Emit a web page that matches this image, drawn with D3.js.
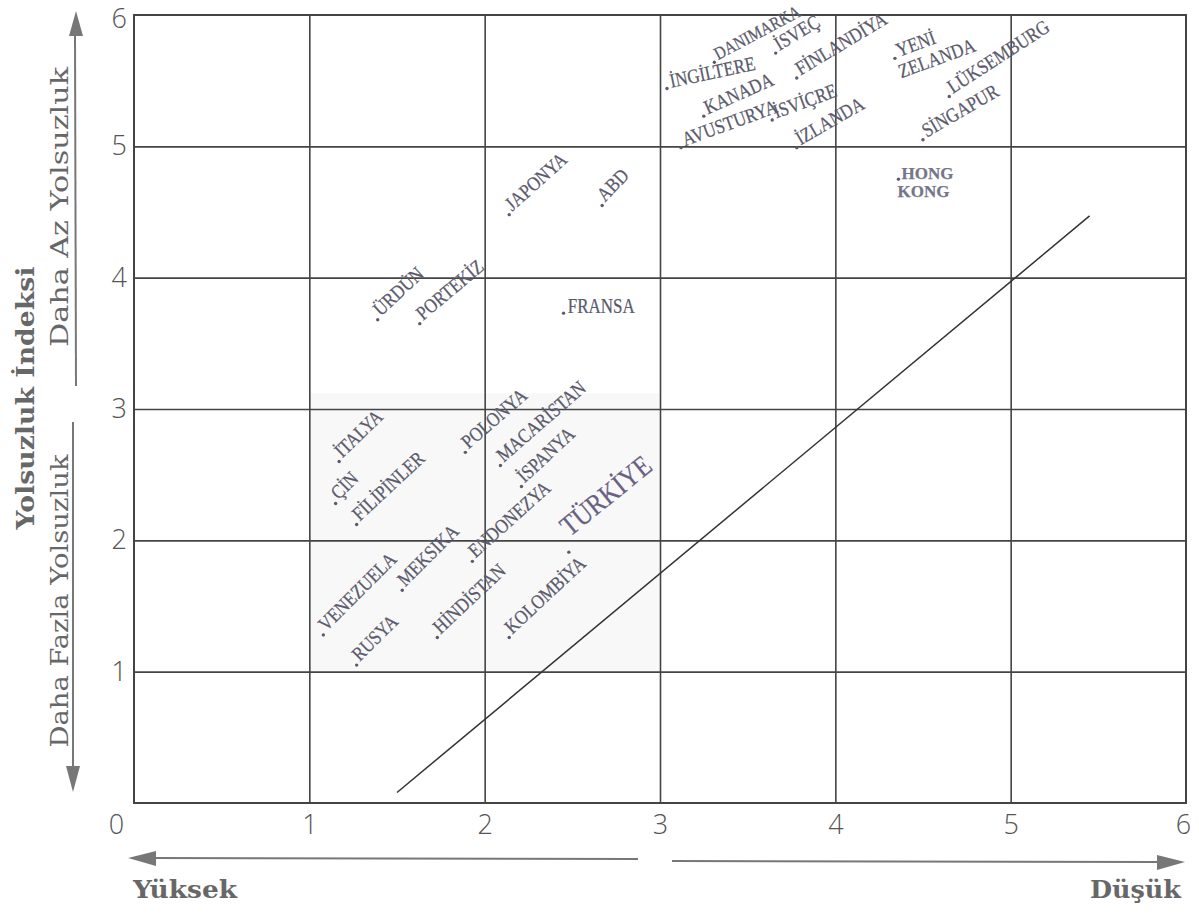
<!DOCTYPE html>
<html><head><meta charset="utf-8">
<script src="https://cdn.jsdelivr.net/npm/d3@7"></script>
<style>body{margin:0;background:#fff}</style>
</head><body>
<svg id="chart" width="1199" height="914"></svg>
<script>
// ---- data ----
const countries = ["DANIMARKA","İSVEÇ","İNGİLTERE","KANADA","AVUSTURYA","İSVİÇRE","FİNLANDİYA","İZLANDA",
  "YENİ ZELANDA","LÜKSEMBURG","SİNGAPUR","HONG KONG","JAPONYA","ABD","ÜRDÜN","PORTEKİZ","FRANSA",
  "İTALYA","ÇİN","FİLİPİNLER","POLONYA","MACARİSTAN","İSPANYA","ENDONEZYA","TÜRKİYE",
  "VENEZUELA","MEKSİKA","RUSYA","HİNDİSTAN","KOLOMBİYA"];
const xValues = [3.31,3.66,3.04,3.25,3.12,3.64,3.78,3.78,
  4.34,4.65,4.50,4.36,2.14,2.67,1.39,1.63,2.45,
  1.17,1.15,1.27,1.89,2.09,2.21,1.93,2.48,
  1.08,1.53,1.27,1.73,2.14];
const yValues = [5.64,5.71,5.44,5.23,4.99,5.20,5.52,4.99,
  5.67,5.38,5.05,4.75,4.48,4.55,3.68,3.65,3.73,
  2.60,2.28,2.12,2.67,2.57,2.41,1.84,1.91,
  1.28,1.62,1.05,1.26,1.26];
const xTicks = [0,1,2,3,4,5,6];
const yTicks = [1,2,3,4,5,6];
const gridValues = [1,2,3,4,5];
const trendX = [1.5, 5.45];
const trendY = [0.08, 4.47];
const shadeX = [1, 3];
const shadeY = [1, 3.12];
const yTitle = "Yolsuzluk İndeksi";
const yUpper = "Daha Az Yolsuzluk";
const yLower = "Daha Fazla Yolsuzluk";
const xLeft = "Yüksek";
const xRight = "Düşük";

// ---- label styling (angles etc.) ----
const labelAngle = {"DANIMARKA":-28,"İSVEÇ":-31,"İNGİLTERE":-12,"KANADA":-24,"AVUSTURYA":-20,"İSVİÇRE":-20,
  "FİNLANDİYA":-31,"İZLANDA":-30,"YENİ ZELANDA":-20,"LÜKSEMBURG":-33,"SİNGAPUR":-30,"HONG KONG":0,
  "JAPONYA":-42,"ABD":-46,"ÜRDÜN":-43,"PORTEKİZ":-40,"FRANSA":0,"İTALYA":-44,"ÇİN":-45,"FİLİPİNLER":-43,
  "POLONYA":-41,"MACARİSTAN":-41,"İSPANYA":-43,"ENDONEZYA":-42,"TÜRKİYE":-39,"VENEZUELA":-45,
  "MEKSİKA":-45,"RUSYA":-45,"HİNDİSTAN":-43,"KOLOMBİYA":-43};
const specialStyle = {
  "DANIMARKA": {size:18},
  "TÜRKİYE": {size:29, dx:12, dy:-11, color:"#685f82"},
  "HONG KONG": {size:17, dx:3, dy:0, sx:1, bold:true, lines:true, color:"#75758a"},
  "YENİ ZELANDA": {lines:true}
};

const svg = d3.select("#chart");
const x = d3.scaleLinear().domain([0,6]).range([134,1186]);
const y = d3.scaleLinear().domain([0,6]).range([803,15]);
const gridColor = "#444";

// shaded region
svg.append("rect")
  .attr("x", x(shadeX[0])).attr("y", y(shadeY[1]))
  .attr("width", x(shadeX[1]) - x(shadeX[0])).attr("height", y(shadeY[0]) - y(shadeY[1]))
  .attr("fill", "#f8f8f8");

// grid
svg.append("g").attr("transform", `translate(0,${y(0)})`)
  .call(d3.axisBottom(x).tickValues(gridValues).tickSize(-(y(0)-y(6))).tickFormat(""))
  .call(g => g.select(".domain").remove())
  .call(g => g.selectAll("line").attr("stroke", gridColor).attr("stroke-width", 1.6));
svg.append("g").attr("transform", `translate(${x(0)},0)`)
  .call(d3.axisLeft(y).tickValues(gridValues).tickSize(-(x(6)-x(0))).tickFormat(""))
  .call(g => g.select(".domain").remove())
  .call(g => g.selectAll("line").attr("stroke", gridColor).attr("stroke-width", 1.6));
svg.append("rect")
  .attr("x", x(0)).attr("y", y(6)).attr("width", x(6)-x(0)).attr("height", y(0)-y(6))
  .attr("fill", "none").attr("stroke", gridColor).attr("stroke-width", 2);

// trend line
const trend = trendX.map((v,i) => ({x:v, y:trendY[i]}));
svg.append("path").datum(trend)
  .attr("d", d3.line().x(d => x(d.x)).y(d => y(d.y)))
  .attr("stroke", "#333").attr("stroke-width", 1.5).attr("fill", "none");

// points + labels
const data = countries.map((c,i) => ({name:c, x:xValues[i], y:yValues[i]}));
const labelColor = "#5a5a6c";
const pts = svg.append("g").selectAll("g").data(data).join("g")
  .attr("transform", d => `translate(${x(d.x)},${y(d.y)})`);
pts.append("circle").attr("r", 1.7).attr("fill", labelColor);
pts.each(function(d){
  const s = specialStyle[d.name] || {};
  const g = d3.select(this).append("g")
    .attr("transform", `rotate(${labelAngle[d.name]}) scale(${s.sx || 0.85},1)`);
  const t = g.append("text")
    .attr("x", s.dx !== undefined ? s.dx : 5).attr("y", s.dy || 0)
    .attr("font-family", "'Liberation Serif', 'Times New Roman', serif")
    .attr("font-size", s.size || 20)
    .attr("font-weight", s.bold ? "bold" : "normal")
    .attr("fill", s.color || labelColor)
    .attr("stroke", s.color || labelColor).attr("stroke-width", 0.25);
  if (s.lines) {
    const parts = d.name.split(" ");
    parts.forEach((p,i) => {
      t.append("tspan").attr("x", i === 0 ? (s.dx !== undefined ? s.dx : 5) : -1)
        .attr("dy", i === 0 ? 0 : "1.05em").text(p);
    });
  } else {
    t.text(d.name);
  }
});

// tick labels
const tickFont = "'Open Sans', 'DejaVu Sans', sans-serif";
const fmt = d3.format("d");
svg.append("g").attr("transform", `translate(0,${y(0)})`)
  .call(d3.axisBottom(x).tickValues(xTicks).tickFormat(fmt).tickSize(0).tickPadding(12))
  .call(g => g.select(".domain").remove())
  .call(g => g.selectAll("text").attr("font-family", tickFont).attr("font-weight", 300)
    .attr("font-size", 27).attr("fill", "#555")
    .attr("dx", d => d === 0 ? -18 : (d === 6 ? -3 : 0)));
svg.append("g").attr("transform", `translate(${x(0)},0)`)
  .call(d3.axisLeft(y).tickValues(yTicks).tickFormat(fmt).tickSize(0).tickPadding(7))
  .call(g => g.select(".domain").remove())
  .call(g => g.selectAll("text").attr("font-family", tickFont).attr("font-weight", 300)
    .attr("font-size", 27).attr("fill", "#555")
    .attr("dy", d => d === 6 ? "0.45em" : "0.32em"));

// axis titles
const titleFont = "'DejaVu Serif', 'Liberation Serif', serif";
const titleColor = "#676767";
svg.append("text").attr("transform", "translate(34,398) rotate(-90)")
  .attr("text-anchor", "middle").attr("font-family", titleFont).attr("font-weight", "bold")
  .attr("font-size", 25).attr("fill", titleColor)
  .attr("textLength", 263).attr("lengthAdjust", "spacingAndGlyphs").text(yTitle);
svg.append("text").attr("transform", "translate(68,207) rotate(-90)")
  .attr("text-anchor", "middle").attr("font-family", titleFont)
  .attr("font-size", 25).attr("fill", titleColor)
  .attr("textLength", 280).attr("lengthAdjust", "spacingAndGlyphs").text(yUpper);
svg.append("text").attr("transform", "translate(68,601) rotate(-90)")
  .attr("text-anchor", "middle").attr("font-family", titleFont)
  .attr("font-size", 25).attr("fill", titleColor)
  .attr("textLength", 293).attr("lengthAdjust", "spacingAndGlyphs").text(yLower);
svg.append("text").attr("x", 133).attr("y", 898)
  .attr("font-family", titleFont).attr("font-weight", "bold")
  .attr("font-size", 24).attr("fill", titleColor)
  .attr("textLength", 104).attr("lengthAdjust", "spacingAndGlyphs").text(xLeft);
svg.append("text").attr("x", 1181).attr("y", 898).attr("text-anchor", "end")
  .attr("font-family", titleFont).attr("font-weight", "bold")
  .attr("font-size", 24).attr("fill", titleColor)
  .attr("textLength", 91).attr("lengthAdjust", "spacingAndGlyphs").text(xRight);

// arrows
const arrowColor = "#777";
const arr = svg.append("g");
arr.append("line").attr("x1",75).attr("y1",34).attr("x2",76).attr("y2",386).attr("stroke",arrowColor).attr("stroke-width",2);
arr.append("polygon").attr("points","76,11 69,36 83,36").attr("fill",arrowColor);
arr.append("line").attr("x1",73).attr("y1",422).attr("x2",73).attr("y2",768).attr("stroke",arrowColor).attr("stroke-width",2);
arr.append("polygon").attr("points","73,792 66,766 80,766").attr("fill",arrowColor);
arr.append("line").attr("x1",154).attr("y1",858).attr("x2",638).attr("y2",859).attr("stroke",arrowColor).attr("stroke-width",2);
arr.append("polygon").attr("points","128,858 156,851 156,866").attr("fill",arrowColor);
arr.append("line").attr("x1",672).attr("y1",861).attr("x2",1158).attr("y2",862).attr("stroke",arrowColor).attr("stroke-width",2);
arr.append("polygon").attr("points","1185,862 1157,855 1157,870").attr("fill",arrowColor);
</script>
</body></html>
